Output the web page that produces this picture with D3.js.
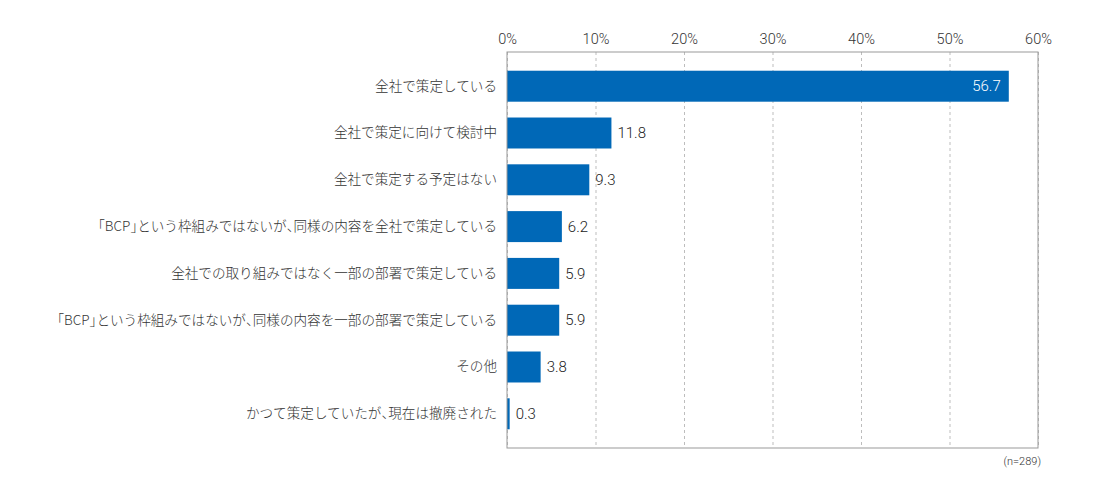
<!DOCTYPE html>
<html>
<head>
<meta charset="utf-8">
<script src="https://cdn.jsdelivr.net/npm/d3@7"></script>
<style>
  body { margin: 0; background: #fff; }
  svg text { font-family: "Noto Sans CJK JP", "Noto Sans", sans-serif; font-weight: 300; }
  svg text.num { font-family: Roboto, "Liberation Sans", sans-serif; font-weight: 300; }
  tspan.punct { font-feature-settings: "halt"; }
</style>
</head>
<body>
<div id="chart"></div>
<script>
// answers
var categories = [
    "全社で策定している",
    "全社で策定に向けて検討中",
    "全社で策定する予定はない",
    "「BCP」という枠組みではないが、同様の内容を全社で策定している",
    "全社での取り組みではなく一部の部署で策定している",
    "「BCP」という枠組みではないが、同様の内容を一部の部署で策定している",
    "その他",
    "かつて策定していたが、現在は撤廃された"
];

// percent
var values = [56.7, 11.8, 9.3, 6.2, 5.9, 5.9, 3.8, 0.3];

// top axis ticks
var tickValues = [0, 10, 20, 30, 40, 50, 60];

var note = "(n=289)";

var margin = {top: 52, right: 62, bottom: 52, left: 507},
    width = 1100 - margin.left - margin.right,
    height = 500 - margin.top - margin.bottom;

var svg = d3.select("#chart")
    .append("svg")
        .attr("width", width + margin.left + margin.right)
        .attr("height", height + margin.top + margin.bottom)
    .append("g")
        .attr("transform", "translate(" + margin.left + "," + margin.top + ")");

var x = d3.scaleLinear()
    .domain([0, 60])
    .range([0, width]);

var y = d3.scaleBand()
    .domain(categories)
    .range([0, height])
    .paddingInner(0.338)
    .paddingOuter(0.4);

// dashed grid
var grid = svg.append("g")
    .call(d3.axisTop(x).tickValues(tickValues).tickSize(-height).tickFormat(""));
grid.select(".domain").remove();
grid.selectAll("line")
    .attr("stroke", "#bdbdbd")
    .attr("stroke-dasharray", "3,3");

// top axis labels
var xAxis = svg.append("g")
    .call(d3.axisTop(x).tickValues(tickValues).tickSize(0).tickPadding(8)
        .tickFormat(function(d) { return d + "%"; }));
xAxis.select(".domain").remove();
xAxis.selectAll("text")
    .attr("class", "num")
    .attr("fill", "#333")
    .style("font-size", "14.5px");

// bars
svg.selectAll("rect.bar")
    .data(values)
    .enter()
    .append("rect")
        .attr("class", "bar")
        .attr("x", x(0))
        .attr("y", function(d, i) { return y(categories[i]); })
        .attr("width", function(d) { return x(d) - x(0); })
        .attr("height", y.bandwidth())
        .attr("fill", "#0068b7");

// value labels (inside for the long bar)
svg.selectAll("text.val")
    .data(values)
    .enter()
    .append("text")
        .attr("class", "val num")
        .attr("x", function(d) { return d > 40 ? x(d) - 8 : x(d) + 6; })
        .attr("y", function(d, i) { return y(categories[i]) + y.bandwidth() / 2; })
        .attr("dy", "0.35em")
        .attr("text-anchor", function(d) { return d > 40 ? "end" : "start"; })
        .attr("fill", function(d) { return d > 40 ? "#fff" : "#222"; })
        .style("font-size", "15px")
        .text(function(d) { return d.toFixed(1); });

// category labels, brackets and commas set half width
var yAxis = svg.append("g")
    .call(d3.axisLeft(y).tickSize(0).tickPadding(10));
yAxis.select(".domain").remove();
yAxis.selectAll("text")
    .attr("fill", "#333")
    .style("font-size", "13.6px")
    .each(function(d) {
        var t = d3.select(this).text("");
        d.split(/([「」、])/).forEach(function(part) {
            if (!part) return;
            t.append("tspan")
                .attr("class", /^[「」、]$/.test(part) ? "punct" : null)
                .text(part);
        });
    });

// frame
svg.append("rect")
    .attr("x", 0)
    .attr("y", 0)
    .attr("width", width)
    .attr("height", height)
    .attr("fill", "none")
    .attr("stroke", "#999");

svg.append("text")
    .attr("class", "num")
    .attr("x", width + 3)
    .attr("y", height + 17)
    .attr("text-anchor", "end")
    .attr("fill", "#333")
    .style("font-size", "11px")
    .text(note);
</script>
</body>
</html>
